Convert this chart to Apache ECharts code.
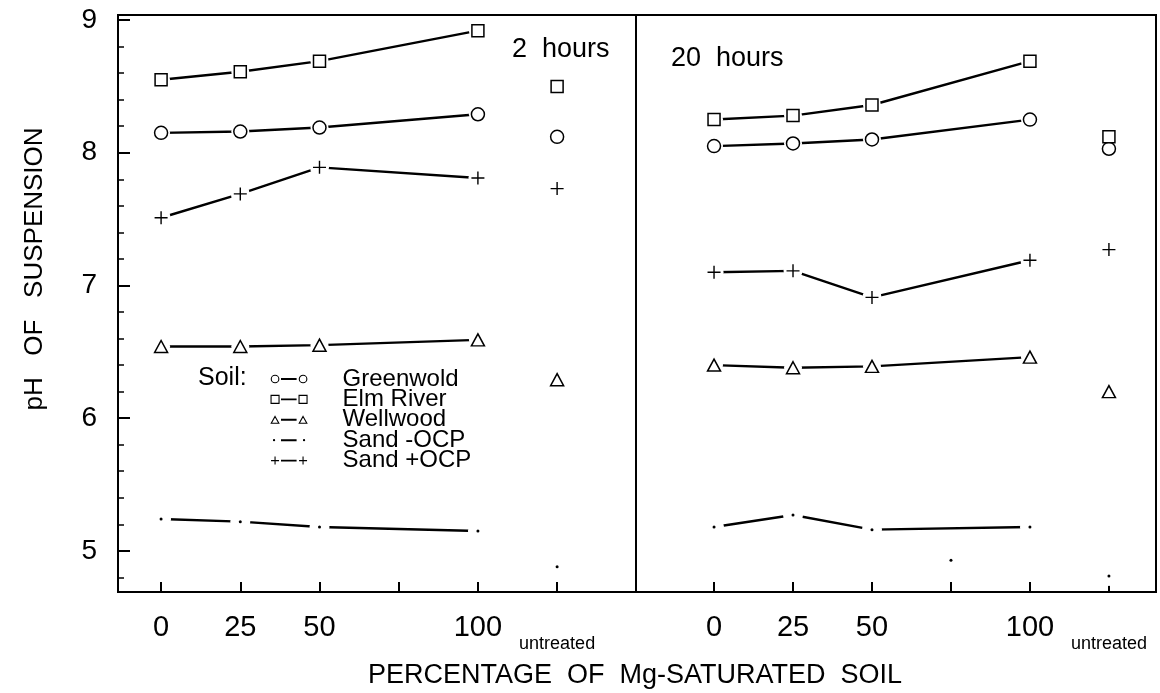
<!DOCTYPE html>
<html>
<head>
<meta charset="utf-8">
<script src="https://cdn.jsdelivr.net/npm/echarts@6/dist/echarts.min.js"></script>
<style>
html,body{margin:0;padding:0;background:#fff;}
#chart{width:1160px;height:693px;}
</style>
</head>
<body>
<div id="chart"></div>
<script>
// ---------------- data ----------------
const soils = ['Greenwold', 'Elm River', 'Wellwood', 'Sand -OCP', 'Sand +OCP'];
const percentMg = [0, 25, 50, 100];
const untreatedPos = 125;
const xTickValues = [0, 25, 50, 75, 100, 125];
const xLabelValues = [0, 25, 50, 100, 125];
const untreatedLabel = 'untreated';
const yMajorValues = [5, 6, 7, 8, 9];
const yMinorValues = [4.8, 5.2, 5.4, 5.6, 5.8, 6.2, 6.4, 6.6, 6.8, 7.2, 7.4, 7.6, 7.8, 8.2, 8.4, 8.6, 8.8];
const panelLabels = ['2  hours', '20  hours'];

// 2 hours
const greenwold2h  = [8.15, 8.16, 8.19, 8.29];
const elmRiver2h   = [8.55, 8.61, 8.69, 8.92];
const wellwood2h   = [6.54, 6.54, 6.55, 6.59];
const sandMinus2h  = [5.24, 5.22, 5.18, 5.15];
const sandPlus2h   = [7.51, 7.69, 7.89, 7.81];
const untreated2h  = [8.12, 8.50, 6.29, 4.88, 7.73];   // in soils order

// 20 hours
const greenwold20h = [8.05, 8.07, 8.10, 8.25];
const elmRiver20h  = [8.25, 8.28, 8.36, 8.69];
const wellwood20h  = [6.40, 6.38, 6.39, 6.46];
const sandMinus20h = [5.18, 5.27, 5.16, 5.18];
const sandPlus20h  = [7.10, 7.11, 6.91, 7.19];
const untreated20h = [8.03, 8.12, 6.20, 4.81, 7.27];
const strayPointsSandMinus20h = [[75, 4.93]];

// ---------------- styling ----------------
const NUM_FONT = '"Liberation Sans Narrow", "Arial Narrow", "Liberation Sans", Arial, sans-serif';
const TXT_FONT = '"Liberation Sans", Arial, Helvetica, sans-serif';
const PLUS = 'path://M0,6 L12,6 M6,0 L6,12';
const markerDefs = [
  {symbol: 'circle',   size: 13,       color: '#fff', border: 1.5, mask: 18},
  {symbol: 'rect',     size: 12,       color: '#fff', border: 1.5, mask: 18},
  {symbol: 'triangle', size: [13, 12], color: '#fff', border: 1.5, mask: 18},
  {symbol: 'circle',   size: 3,        color: '#000', border: 0,   mask: 20},
  {symbol: PLUS,       size: 13,       color: '#000', border: 1.4, mask: 19}
];

// legend icons drawn in a 97 x 9 frame (icon occupies x 30..67)
const EXT = 'M0,0 M97,9 ';
const LINE = 'M41,4.1 L55.5,4.1 L55.5,4.9 L41,4.9 Z ';
const circ = (cx, r) => `M${cx - r},4.5 A${r},${r} 0 1 1 ${cx + r},4.5 A${r},${r} 0 1 1 ${cx - r},4.5 Z `;
const sq = (cx) => `M${cx - 4},0.5 L${cx + 4},0.5 L${cx + 4},8.5 L${cx - 4},8.5 Z `;
const tri = (cx) => `M${cx},1.2 L${cx + 3.8},8 L${cx - 3.8},8 Z `;
const plus = (cx) => `M${cx - 4},4.5 L${cx + 4},4.5 M${cx},0.5 L${cx},8.5 `;
const legendIcons = [
  'path://' + EXT + circ(34.5, 3.8) + LINE + circ(62.5, 3.8),
  'path://' + EXT + sq(34.5) + LINE + sq(62.5),
  'path://' + EXT + tri(34.5) + LINE + tri(62.5),
  'path://' + EXT + circ(33.5, 0.6) + LINE + circ(63.5, 0.6),
  'path://' + EXT + plus(34.5) + LINE + plus(62.5)
];

const panels = [
  {data: [greenwold2h, elmRiver2h, wellwood2h, sandMinus2h, sandPlus2h], untreated: untreated2h, extra: [[], [], [], [], []], yIndex: 0},
  {data: [greenwold20h, elmRiver20h, wellwood20h, sandMinus20h, sandPlus20h], untreated: untreated20h, extra: [[], [], [], strayPointsSandMinus20h, []], yIndex: 2}
];

const series = [];
panels.forEach((p, pi) => {
  p.data.forEach((vals, si) => {
    const def = markerDefs[si];
    const pts = percentMg.map((x, i) => [x, vals[i]]);
    const marks = pts.concat([[untreatedPos, p.untreated[si]]]).concat(p.extra[si]);
    series.push({
      type: 'line', name: soils[si], xAxisIndex: pi, yAxisIndex: p.yIndex,
      data: pts, symbol: 'none', showSymbol: false, silent: true, z: 2,
      lineStyle: {color: '#000', width: 2.4, opacity: 1}
    });
    series.push({
      type: 'scatter', name: 'gap', xAxisIndex: pi, yAxisIndex: p.yIndex,
      data: marks, symbol: 'circle', symbolSize: def.mask, silent: true, z: 3,
      itemStyle: {color: '#fff', opacity: 1, borderWidth: 0}
    });
    series.push({
      type: 'scatter', name: soils[si], xAxisIndex: pi, yAxisIndex: p.yIndex,
      data: marks, symbol: def.symbol, symbolSize: def.size, z: 4,
      itemStyle: {color: def.color, borderColor: '#000', borderWidth: def.border, opacity: 1}
    });
  });
});

function xAxisFor(gridIndex, min, max) {
  return {
    type: 'value', gridIndex: gridIndex, min: min, max: max,
    axisLine: {show: true, onZero: false, lineStyle: {color: '#000', width: 2}},
    axisTick: {show: true, inside: true, length: 10, customValues: xTickValues, lineStyle: {color: '#000', width: 2}},
    axisLabel: {
      show: true, customValues: xLabelValues, margin: 21,
      color: '#000', fontSize: 29, fontFamily: NUM_FONT,
      formatter: v => (v === untreatedPos ? '{u|' + untreatedLabel + '}' : String(v)),
      rich: {u: {fontSize: 18, fontFamily: TXT_FONT, color: '#000', padding: [22, 0, 0, 0]}}
    },
    splitLine: {show: false}
  };
}

const Y_MIN = 4.69, Y_MAX = 9.038;

const option = {
  animation: false,
  backgroundColor: '#fff',
  grid: [
    {left: 118, top: 15, width: 518, height: 577, show: true, borderColor: '#000', borderWidth: 2, backgroundColor: 'transparent'},
    {left: 636, top: 15, width: 520, height: 577, show: true, borderColor: '#000', borderWidth: 2, backgroundColor: 'transparent'}
  ],
  xAxis: [xAxisFor(0, -13.6, 149.9), xAxisFor(1, -24.7, 139.9)],
  yAxis: [
    {
      type: 'value', gridIndex: 0, min: Y_MIN, max: Y_MAX, position: 'left',
      axisLine: {show: true, onZero: false, lineStyle: {color: '#000', width: 2}},
      axisTick: {show: true, inside: true, length: 12, customValues: yMajorValues, lineStyle: {color: '#000', width: 2}},
      axisLabel: {show: true, customValues: yMajorValues, margin: 21, color: '#000', fontSize: 28, fontFamily: NUM_FONT},
      splitLine: {show: false}
    },
    {
      type: 'value', gridIndex: 0, min: Y_MIN, max: Y_MAX, position: 'left', offset: 0,
      axisLine: {show: false, onZero: false},
      axisTick: {show: true, inside: true, length: 6, customValues: yMinorValues, lineStyle: {color: '#000', width: 1.5}},
      axisLabel: {show: false},
      splitLine: {show: false}
    },
    {
      type: 'value', gridIndex: 1, min: Y_MIN, max: Y_MAX,
      axisLine: {show: false, onZero: false}, axisTick: {show: false}, axisLabel: {show: false}, splitLine: {show: false}
    }
  ],
  legend: {
    show: true, orient: 'vertical', left: 240, top: 367, padding: 0,
    itemWidth: 97, itemHeight: 9, itemGap: -3.6, symbolKeepAspect: true,
    selectedMode: false,
    textStyle: {fontSize: 24, fontFamily: TXT_FONT, color: '#000'},
    itemStyle: {color: '#fff', borderColor: '#000', borderWidth: 1.1},
    data: soils.map((s, i) => ({name: s, icon: legendIcons[i]}))
  },
  graphic: [
    {type: 'text', x: 198, y: 378, style: {text: 'Soil:', fontSize: 25, fontFamily: TXT_FONT, fill: '#000', verticalAlign: 'middle'}},
    {type: 'text', x: 512, y: 50, style: {text: panelLabels[0], fontSize: 27, fontFamily: TXT_FONT, fill: '#000', verticalAlign: 'middle'}},
    {type: 'text', x: 671, y: 59, style: {text: panelLabels[1], fontSize: 27, fontFamily: TXT_FONT, fill: '#000', verticalAlign: 'middle'}},
    {type: 'text', x: 635, y: 676, style: {text: 'PERCENTAGE  OF  Mg-SATURATED  SOIL', fontSize: 27, fontFamily: TXT_FONT, fill: '#000', align: 'center', verticalAlign: 'middle'}},
    {type: 'text', x: 35, y: 269, rotation: Math.PI / 2, style: {text: 'pH   OF   SUSPENSION', fontSize: 26, fontFamily: TXT_FONT, fill: '#000', align: 'center', verticalAlign: 'middle'}}
  ],
  series: series
};

const chart = echarts.init(document.getElementById('chart'), null, {renderer: 'canvas'});
chart.setOption(option);
</script>
</body>
</html>
